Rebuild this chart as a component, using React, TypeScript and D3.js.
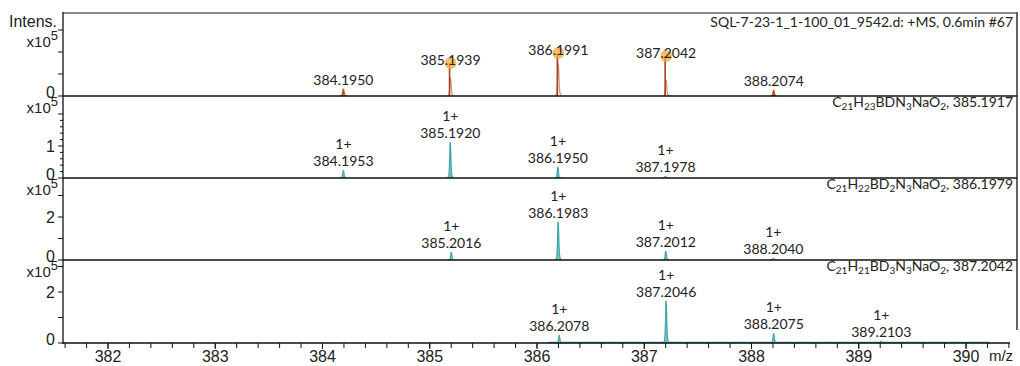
import { useMemo } from "react";
import * as d3 from "d3";

// measured spectrum (panel 1)
const msTitle = "SQL-7-23-1_1-100_01_9542.d: +MS, 0.6min #67";
const msPeaks = [384.195, 385.1939, 386.1991, 387.2042, 388.2074];
const msProfile = [0.32, 0.82, 1.5, 0.73, 0.27]; // x10^5
const msStick = [null, 1.5, 1.95, 1.82, null];

// simulated isotope patterns (panels 2-4)
const simFormulas = ["C21H23BDN3NaO2", "C21H22BD2N3NaO2", "C21H21BD3N3NaO2"];
const simMasses = ["385.1917", "386.1979", "387.2042"];
const simPeaks = [
  [384.1953, 385.192, 386.195, 387.1978],
  [385.2016, 386.1983, 387.2012, 388.204],
  [386.2078, 387.2046, 388.2075, 389.2103],
];
const simIntens = [
  [0.25, 1.12, 0.34, 0.06],
  [0.37, 1.77, 0.42, 0.09],
  [0.31, 1.65, 0.39, 0.08],
];
// visible teal baseline of the last simulated trace
const lastSpan = [386.1, 390.22];
const charge = "1+";

// axes
const xTicks = [382, 383, 384, 385, 386, 387, 388, 389, 390];
const yTicks = [
  [0, 1, 2, 3],
  [0, 0.2, 0.4, 0.6, 0.8, 1, 1.2, 1.4, 1.6, 1.8, 2],
  [0, 1, 2, 3],
  [0, 1, 2, 3],
];
const yLabels = [[0], [0, 1], [0, 2], [0, 2]];

// layout
const W = 1020;
const H = 366;
const left = 63;
const right = 1016;
const panels = [
  { top: 13, base: 96, perUnit: 22 },
  { top: 96, base: 178, perUnit: 32 },
  { top: 178, base: 260, perUnit: 21.5 },
  { top: 260, base: 343, perUnit: 25.5 },
];

const peakShape: [number, number][] = [
  [-0.032, 0],
  [-0.015, 0.07],
  [-0.007, 0.55],
  [-0.002, 1],
  [0.003, 0.85],
  [0.009, 0.3],
  [0.018, 0.06],
  [0.034, 0],
];

const sansAxis = "'Liberation Sans', Arial, sans-serif";
const sansLbl = "Lato, 'Noto Sans', sans-serif";

function Formula({ f, mass, x, y }: { f: string; mass: string; x: number; y: number }) {
  const parts = f.match(/[A-Z][a-z]?|\d+/g) || [];
  return (
    <text x={x} y={y} textAnchor="end" fontFamily={sansLbl} fontSize={14} fill="#222">
      {parts.map((p, i) =>
        /\d/.test(p) ? (
          <tspan key={i} fontSize={10} dy={3}>
            {p}
          </tspan>
        ) : (
          <tspan key={i} dy={i > 0 && /\d/.test(parts[i - 1]) ? -3 : 0}>
            {p}
          </tspan>
        )
      )}
      <tspan dy={/\d/.test(parts[parts.length - 1]) ? -3 : 0}>{", " + mass}</tspan>
    </text>
  );
}

export default function App() {
  const x = useMemo(() => d3.scaleLinear().domain([382, 390]).range([108, 966]), []);
  const ys = panels.map((p) =>
    d3.scaleLinear().domain([0, (p.base - p.top) / p.perUnit]).range([p.base, p.top])
  );

  const peakPath = (y: d3.ScaleLinear<number, number>, mz: number, h: number) =>
    d3
      .line<[number, number]>()
      .x((d) => x(mz + d[0]))
      .y((d) => y(d[1] * h))
      .curve(d3.curveMonotoneX)(peakShape) || "";

  const minor = d3.range(381.6, 390.41, 0.2);
  const yLast = ys[3];

  return (
    <svg
      width={W}
      height={H}
      style={{ position: "absolute", left: 0, top: 0, background: "#fff" }}
    >
      <rect width={W} height={H} fill="#fff" />

      {/* panel 1: measured */}
      {msPeaks.map((mz, i) => {
        const y = ys[0];
        const stick = msStick[i];
        const small = stick == null;
        const top = small ? y(msProfile[i]) : y(stick as number);
        return (
          <g key={mz}>
            <path
              d={peakPath(y, mz, msProfile[i])}
              fill={small ? "#c0622e" : "none"}
              stroke={small ? "#b5531f" : "#d49273"}
              strokeWidth={1.2}
            />
            {!small && (
              <>
                <line
                  x1={x(mz) - 1}
                  x2={x(mz) - 1}
                  y1={y(0)}
                  y2={top}
                  stroke="#a8401a"
                  strokeWidth={1.6}
                />
                <circle cx={x(mz)} cy={top} r={6} fill="#f5a733" fillOpacity={0.72} />
              </>
            )}
            <text
              x={x(mz)}
              y={small ? top - 4 : top + 2}
              textAnchor="middle"
              fontFamily={sansLbl}
              fontSize={14}
              fill="#222"
            >
              {mz.toFixed(4)}
            </text>
          </g>
        );
      })}

      {/* panels 2-4: simulated */}
      <line
        x1={x(lastSpan[0])}
        x2={x(lastSpan[1])}
        y1={yLast(0) - 0.5}
        y2={yLast(0) - 0.5}
        stroke="#3aa3a3"
        strokeWidth={1.6}
      />
      {simPeaks.map((list, k) => {
        const y = ys[k + 1];
        return (
          <g key={k}>
            {list.map((mz, i) => {
              const h = simIntens[k][i];
              const lb = y(h) - 4;
              return (
                <g key={mz}>
                  <path
                    d={peakPath(y, mz, h)}
                    fill="#6cc6c6"
                    stroke="#2e9c9c"
                    strokeWidth={1}
                  />
                  <text
                    x={x(mz)}
                    y={lb - 17}
                    textAnchor="middle"
                    fontFamily={sansLbl}
                    fontSize={14}
                    fill="#222"
                  >
                    {charge}
                  </text>
                  <text
                    x={x(mz)}
                    y={lb}
                    textAnchor="middle"
                    fontFamily={sansLbl}
                    fontSize={14}
                    fill="#222"
                  >
                    {mz.toFixed(4)}
                  </text>
                </g>
              );
            })}
          </g>
        );
      })}

      {/* frame */}
      <line x1={left} x2={right} y1={13} y2={13} stroke="#8c8c8c" strokeWidth={2} />
      <line x1={right + 1} x2={right + 1} y1={12} y2={330} stroke="#111" strokeWidth={1.3} />
      {panels.map((p, i) => (
        <line
          key={i}
          x1={left}
          x2={i === 3 ? 1010 : right + 1}
          y1={p.base}
          y2={p.base}
          stroke="#111"
          strokeWidth={1.4}
        />
      ))}
      <line x1={left} x2={left} y1={12} y2={344} stroke="#111" strokeWidth={1.3} />

      {/* y axes */}
      {panels.map((p, i) => {
        const y = ys[i];
        return (
          <g key={i} fontFamily={sansAxis} fill="#222">
            {yTicks[i].map((t) => {
              const major = Math.abs(t - Math.round(t)) < 1e-6;
              return (
                <line
                  key={t}
                  x1={left - (major ? 5 : 3)}
                  x2={left}
                  y1={y(t)}
                  y2={y(t)}
                  stroke="#111"
                  strokeWidth={1}
                />
              );
            })}
            {yLabels[i].map((t) => (
              <text key={t} x={55} y={y(t) + (t === 0 ? 2 : 6)} textAnchor="end" fontSize={16}>
                {t}
              </text>
            ))}
            <text x={58} y={p.top + (i === 0 ? 34 : 17)} textAnchor="end" fontSize={15}>
              x10
              <tspan fontSize={13} dy={-7}>
                5
              </tspan>
            </text>
          </g>
        );
      })}
      <text x={57} y={27} textAnchor="end" fontFamily={sansAxis} fontSize={16} fill="#222">
        Intens.
      </text>

      {/* titles */}
      <text x={1013} y={27} textAnchor="end" fontFamily={sansLbl} fontSize={14} fill="#222">
        {msTitle}
      </text>
      {simFormulas.map((f, k) => (
        <Formula key={f} f={f} mass={simMasses[k]} x={1013} y={panels[k + 1].top + 11} />
      ))}

      {/* x axis */}
      <g fontFamily={sansAxis} fill="#222">
        {minor.map((t) => (
          <line
            key={t.toFixed(1)}
            x1={x(t)}
            x2={x(t)}
            y1={343}
            y2={343 + 5}
            stroke="#111"
            strokeWidth={1}
          />
        ))}
        {xTicks.map((t) => (
          <g key={t}>
            <line x1={x(t)} x2={x(t)} y1={343} y2={349} stroke="#111" strokeWidth={1} />
            <text x={x(t)} y={362} textAnchor="middle" fontSize={16}>
              {t}
            </text>
          </g>
        ))}
        <text x={1001} y={361} textAnchor="middle" fontSize={15}>
          m/z
        </text>
      </g>
    </svg>
  );
}
